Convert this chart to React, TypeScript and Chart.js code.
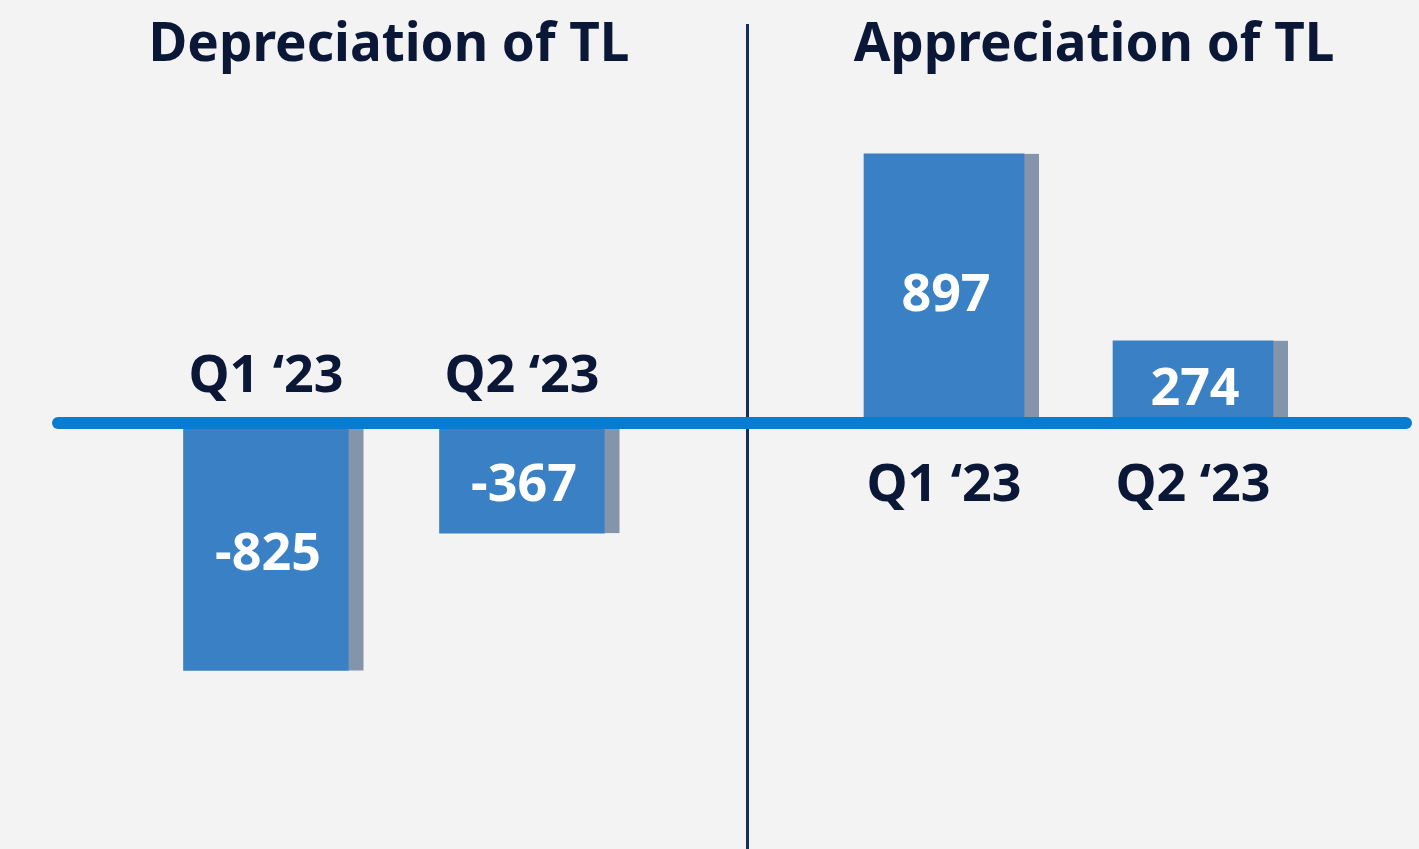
import React, { useEffect, useRef } from 'react';
import { Chart, registerables } from 'chart.js';

Chart.register(...registerables);

// ---- data ----
const categories = ['Q1 ‘23', 'Q2 ‘23'];
const depreciationValues = [-825, -367];
const appreciationValues = [897, 274];
const panelTitles = ['Depreciation of TL', 'Appreciation of TL'];
const yMin = -1420;
const yMax = 1410;

// ---- styles ----
const NAVY = '#0B1736';
const BAR = '#3A80C4';
const SHADOW = '#8494AB';
const AXIS = '#0A7CCF';
const DIVIDER = '#12305A';
const BG = '#F3F3F3';
const FONT = '"Noto Sans", "Open Sans", sans-serif';

const panelPlugin = {
  id: 'panelDeco',
  beforeDraw(chart: any, _args: any, opts: any) {
    const { ctx, width, height } = chart;
    ctx.save();
    ctx.fillStyle = BG;
    ctx.fillRect(0, 0, width, height);
    if (opts.divider) {
      ctx.fillStyle = DIVIDER;
      ctx.fillRect(0, 24, 3, height - 24);
    }
    ctx.restore();
  },
  beforeDatasetsDraw(chart: any) {
    const { ctx } = chart;
    const meta = chart.getDatasetMeta(0);
    ctx.save();
    ctx.fillStyle = SHADOW;
    meta.data.forEach((bar: any) => {
      const { x, y, base, width } = bar.getProps(['x', 'y', 'base', 'width'], true);
      ctx.fillRect(x + width / 2, Math.min(y, base), 15, Math.abs(base - y));
    });
    ctx.restore();
  },
  afterDatasetsDraw(chart: any, _args: any, opts: any) {
    const { ctx, width } = chart;
    const y0 = chart.scales.y.getPixelForValue(0);
    ctx.save();
    // zero line
    ctx.strokeStyle = AXIS;
    ctx.lineWidth = 12;
    ctx.lineCap = 'round';
    ctx.beginPath();
    ctx.moveTo(opts.lineFrom, y0);
    ctx.lineTo(opts.lineToEnd ? width + 20 : opts.lineTo, y0);
    ctx.stroke();

    const meta = chart.getDatasetMeta(0);
    const values = chart.data.datasets[0].data as number[];
    const labels = chart.data.labels as string[];
    ctx.textAlign = 'center';
    ctx.textBaseline = 'alphabetic';
    meta.data.forEach((bar: any, i: number) => {
      const { x, y, base } = bar.getProps(['x', 'y', 'base'], true);
      // value label
      ctx.fillStyle = '#FFFFFF';
      ctx.font = `700 52px ${FONT}`;
      ctx.fillText(String(values[i]), x + 2, (y + base) / 2 + 23);
      // category label
      ctx.fillStyle = NAVY;
      ctx.font = `700 52px ${FONT}`;
      const ly = opts.labelsAbove ? y0 - 31 : y0 + 78;
      ctx.fillText(labels[i], x, ly);
    });

    // title
    ctx.fillStyle = NAVY;
    ctx.font = `700 53px ${FONT}`;
    ctx.fillText(opts.title, opts.titleX, 61);
    ctx.restore();
  },
};

function makeConfig(values: number[], panel: any, padL: number, padR: number, thickness: number) {
  return {
    type: 'bar' as const,
    data: {
      labels: categories,
      datasets: [
        {
          data: values,
          backgroundColor: BAR,
          borderWidth: 0,
          barThickness: thickness,
        },
      ],
    },
    options: {
      animation: false as const,
      responsive: true,
      maintainAspectRatio: false,
      layout: { padding: { left: padL, right: padR, top: 0, bottom: 0 } },
      scales: {
        x: { display: false, offset: true },
        y: { display: false, min: yMin, max: yMax },
      },
      plugins: {
        legend: { display: false },
        tooltip: { enabled: false },
        title: { display: false },
        panelDeco: panel,
      },
    },
    plugins: [panelPlugin],
  };
}

export default function App() {
  const leftRef = useRef<HTMLCanvasElement | null>(null);
  const rightRef = useRef<HTMLCanvasElement | null>(null);

  useEffect(() => {
    const left = new Chart(
      leftRef.current as HTMLCanvasElement,
      makeConfig(
        depreciationValues,
        { title: panelTitles[0], titleX: 389, labelsAbove: true, lineFrom: 58, lineToEnd: true, divider: false },
        138,
        96,
        165
      ) as any
    );
    const right = new Chart(
      rightRef.current as HTMLCanvasElement,
      makeConfig(
        appreciationValues,
        { title: panelTitles[1], titleX: 348, labelsAbove: false, lineFrom: -20, lineTo: 660, lineToEnd: false, divider: true },
        73.5,
        101.5,
        160
      ) as any
    );
    return () => {
      left.destroy();
      right.destroy();
    };
  }, []);

  return (
    <div style={{ position: 'fixed', left: 0, top: 0, width: 1419, height: 849, background: BG, overflow: 'hidden' }}>
      <div style={{ position: 'absolute', left: 0, top: 0, width: 746, height: 849 }}>
        <canvas ref={leftRef} />
      </div>
      <div style={{ position: 'absolute', left: 746, top: 0, width: 673, height: 849 }}>
        <canvas ref={rightRef} />
      </div>
    </div>
  );
}
